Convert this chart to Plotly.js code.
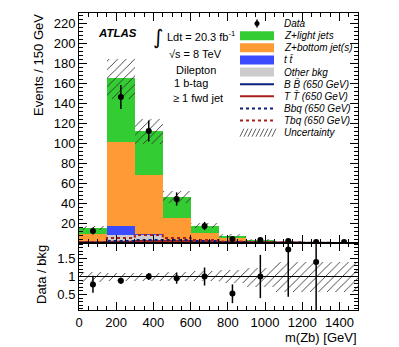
<!DOCTYPE html>
<html>
<head>
<meta charset="utf-8">
<script src="https://cdn.plot.ly/plotly-3.0.1.min.js"></script>
<style>html,body{margin:0;padding:0;background:#fff;}#chart{width:399px;height:347px;}</style>
</head>
<body>
<div id="chart"></div>
<script>
// ---- data ----
const binEdges   = [0,150,300,450,600,750,900,1050,1200,1350,1500];
const binCenters = [75,225,375,525,675,825,975,1125,1275,1425];
const binWidth   = 150;

// stacked backgrounds (bottom -> top)
const otherBkg   = [2.0, 8.0, 8.0, 3.0, 1.5, 1.0, 0.5, 0.2, 0.1, 0.05];
const ttbar      = [0.5, 9.0, 1.0, 0.5, 0.3, 0.2, 0.1, 0.05, 0.02, 0.01];
const zBottom    = [7.0, 84.0, 59.0, 21.5, 8.2, 3.8, 1.3, 0.45, 0.28, 0.1];
const zLight     = [5.8, 64.5, 44.0, 21.0, 7.0, 2.5, 1.1, 0.45, 0.3, 0.14];

// signals (not stacked)
const sigBB  = [0.4, 1.0, 1.5, 1.5, 1.0, 0.6, 0.3, 0.2, 0.1, 0.1];
const sigTT  = [0.4, 1.2, 2.0, 2.0, 1.5, 0.8, 0.4, 0.2, 0.1, 0.1];
const sigBbq = [0.6, 2.0, 3.0, 3.0, 2.0, 1.0, 0.5, 0.3, 0.2, 0.1];
const sigTbq = [1.0, 5.0, 8.0, 5.0, 3.0, 1.5, 0.8, 0.4, 0.2, 0.1];

// data
const dataY   = [12, 146, 112, 44, 17, 4, 3, 2, 1, 1];
const dataErr = [3.5, 12, 10.6, 6.6, 4.1, 2.0, 1.7, 1.4, 1.0, 1.0];

// ratio panel
const ratioY     = [0.78, 0.88, 1.0, 0.95, 1.0, 0.53, 1.0, 1.75, 1.4, null];
const ratioErrUp = [0.24, 0.08, 0.10, 0.15, 0.25, 0.25, 0.60, 1.40, 1.50, 0];
const ratioErrDn = [0.23, 0.08, 0.10, 0.15, 0.25, 0.27, 0.60, 1.31, 1.50, 0];
const bandHi     = [1.12, 1.11, 1.11, 1.12, 1.15, 1.18, 1.24, 1.39, 1.39, 1.39];
const bandLo     = [0.86, 0.87, 0.88, 0.87, 0.87, 0.81, 0.71, 0.57, 0.57, 0.57];

// tick labels
const mainYTicks  = [20,40,60,80,100,120,140,160,180,200,220];
const ratioYTicks = [0.5, 1, 1.5];
const ratioYText  = ['0.5', '1', '1.5'];

// ---- styles ----
const FONT = 'Liberation Sans, Arial, Helvetica, sans-serif';
const cGreen = '#33cc33', cOrange = '#ff9a35', cBlue = '#3b4cfe', cGrey = '#cccccc';
const cNavy = '#0b1f7d', cRed = '#a8201c';

// ---- build traces ----
function add(a, b) { return a.map((v, i) => v + b[i]); }
const base0 = binCenters.map(() => 0);
const base1 = add(base0, otherBkg);
const base2 = add(base1, ttbar);
const base3 = add(base2, zBottom);
const total = add(base3, zLight);

function stackBar(vals, base, color, name) {
  return {type: 'bar', x: binCenters, y: vals, base: base, width: binWidth,
    marker: {color: color, line: {width: 0}}, name: name, showlegend: false,
    xaxis: 'x', yaxis: 'y', hoverinfo: 'skip'};
}
function stepVals(v) { return v.concat([v[v.length - 1]]); }
function stepLine(vals, color, dash, name) {
  return {type: 'scatter', mode: 'lines', x: binEdges, y: stepVals(vals),
    line: {shape: 'hv', color: color, width: 2, dash: dash}, name: name,
    showlegend: false, xaxis: 'x', yaxis: 'y', hoverinfo: 'skip'};
}
const hatchPattern = {shape: '/', fgcolor: '#333333', bgcolor: 'rgba(0,0,0,0)', size: 6, solidity: 0.15, fillmode: 'replace'};

const traces = [
  stackBar(otherBkg, base0, cGrey, 'Other bkg'),
  stackBar(ttbar, base1, cBlue, 't t̄'),
  stackBar(zBottom, base2, cOrange, 'Z+bottom jet(s)'),
  stackBar(zLight, base3, cGreen, 'Z+light jets'),
  {type: 'bar', x: binCenters, width: binWidth,
    base: total.map((t, i) => t * bandLo[i]),
    y: total.map((t, i) => t * (bandHi[i] - bandLo[i])),
    marker: {color: '#333333', pattern: hatchPattern, line: {width: 0}},
    showlegend: false, xaxis: 'x', yaxis: 'y', hoverinfo: 'skip', name: 'Uncertainty'},
  {type: 'bar', x: binCenters, width: binWidth,
    base: bandLo, y: bandHi.map((h, i) => h - bandLo[i]),
    marker: {color: '#333333', pattern: hatchPattern, line: {width: 0}},
    showlegend: false, xaxis: 'x2', yaxis: 'y2', hoverinfo: 'skip', name: 'Uncertainty'},
  stepLine(sigBB, cNavy, 'solid', 'BB (650 GeV)'),
  stepLine(sigTT, cRed, 'solid', 'TT (650 GeV)'),
  stepLine(sigBbq, cNavy, 'dot', 'Bbq (650 GeV)'),
  stepLine(sigTbq, cRed, 'dot', 'Tbq (650 GeV)'),
  {type: 'scatter', mode: 'markers', x: binCenters, y: dataY,
    error_y: {type: 'data', array: dataErr, color: '#000', thickness: 1.5, width: 0},
    marker: {color: '#000', size: 6}, showlegend: false, xaxis: 'x', yaxis: 'y', name: 'Data'},
  {type: 'scatter', mode: 'markers', x: binCenters, y: ratioY,
    error_y: {type: 'data', symmetric: false, array: ratioErrUp, arrayminus: ratioErrDn, color: '#000', thickness: 1.5, width: 0},
    marker: {color: '#000', size: 6}, showlegend: false, xaxis: 'x2', yaxis: 'y2', name: 'Data / bkg'}
];

// ---- layout helpers (pixel -> paper) ----
const L = 79, R = 358, T = 13, B = 310;
const px = x => (x - L) / (R - L);
const py = y => (B - y) / (B - T);
const splitPx = 243;
const ratioTop = py(splitPx);

const annotations = [];
const shapes = [];
function text(t, x, y, opts) {
  opts = opts || {};
  annotations.push(Object.assign({text: t, xref: 'paper', yref: 'paper', x: px(x), y: py(y),
    xanchor: 'left', yanchor: 'middle', showarrow: false,
    font: {family: FONT, size: 11, color: '#000'}}, opts));
}

// axis titles
text('Events / 150 GeV', 38, 65, {textangle: -90, xanchor: 'center', font: {family: FONT, size: 13, color: '#000'}});
text('Data / bkg', 41, 275, {textangle: -90, xanchor: 'center', font: {family: FONT, size: 13, color: '#000'}});
text('m(Zb) [GeV]', 358.5, 337, {xanchor: 'right', font: {family: FONT, size: 13, color: '#000'}});

// labels
text('<b><i>ATLAS</i></b>', 96, 33, {font: {family: FONT, size: 11.5, color: '#000'}});
text('∫', 158, 37, {xanchor: 'center', font: {family: 'DejaVu Sans, ' + FONT, size: 20, color: '#000'}});
text('Ldt = 20.3 fb<sup>-1</sup>', 165, 36, {font: {family: FONT, size: 11, color: '#000'}});
text('√s = 8 TeV', 195, 53.5, {xanchor: 'center'});
text('Dilepton', 195.5, 69.5, {xanchor: 'center'});
text('1 b-tag', 190.5, 83.5, {xanchor: 'center'});
text('≥ 1 fwd jet', 197.5, 97.5, {xanchor: 'center'});

// legend
const legNames = ['Data', 'Z+light jets', 'Z+bottom jet(s)', 't t̄', 'Other bkg',
  'B B̄ (650 GeV)', 'T T̄ (650 GeV)', 'Bbq (650 GeV)', 'Tbq (650 GeV)', 'Uncertainty'];
const legY0 = 23.5, legDy = 12.13, lx0 = 240, lx1 = 274, ltx = 282;
legNames.forEach((n, i) => {
  text('<i>' + n + '</i>', ltx, legY0 + i * legDy, {font: {family: FONT, size: 10, color: '#000'}});
});
function ly(i) { return legY0 + i * legDy; }
// data symbol
shapes.push({type: 'line', xref: 'paper', yref: 'paper', x0: px(257), x1: px(257), y0: py(ly(0) - 4), y1: py(ly(0) + 4), line: {color: '#000', width: 1.5}});
shapes.push({type: 'circle', xref: 'paper', yref: 'paper', x0: px(254.5), x1: px(259.5), y0: py(ly(0) - 2.5), y1: py(ly(0) + 2.5), fillcolor: '#000', line: {width: 0}});
// boxes
[[1, cGreen], [2, cOrange], [3, cBlue], [4, cGrey]].forEach(([i, c]) => {
  shapes.push({type: 'rect', xref: 'paper', yref: 'paper', x0: px(lx0), x1: px(lx1), y0: py(ly(i) - 4.5), y1: py(ly(i) + 4.5), fillcolor: c, line: {width: 0}});
});
// lines
[[5, cNavy, 'solid'], [6, cRed, 'solid'], [7, cNavy, 'dot'], [8, cRed, 'dot']].forEach(([i, c, d]) => {
  shapes.push({type: 'line', xref: 'paper', yref: 'paper', x0: px(lx0), x1: px(lx1), y0: py(ly(i)), y1: py(ly(i)), line: {color: c, width: 2, dash: d}});
});
// hatch symbol
for (let k = 0; k < 9; k++) {
  const x = lx0 + k * 4;
  shapes.push({type: 'line', xref: 'paper', yref: 'paper', x0: px(x), x1: px(x + 4), y0: py(ly(9) + 4), y1: py(ly(9) - 4), line: {color: '#333', width: 0.8}});
}
// ratio reference line at 1
shapes.push({type: 'line', xref: 'x2', yref: 'y2', x0: binEdges[0], x1: binEdges[binEdges.length - 1], y0: 1, y1: 1, line: {color: '#000', width: 1}, layer: 'above'});

const axisCommon = {showline: true, linecolor: '#000', linewidth: 1, mirror: 'ticks', ticks: 'inside',
  tickcolor: '#000', tickwidth: 1, showgrid: false, zeroline: false,
  tickfont: {family: FONT, size: 13, color: '#000'}};

const layout = {
  width: 399, height: 347,
  margin: {l: L, r: 399 - R, t: T, b: 347 - B, pad: 0},
  paper_bgcolor: '#fff', plot_bgcolor: '#fff',
  barmode: 'overlay', bargap: 0, showlegend: false,
  xaxis: Object.assign({}, axisCommon, {domain: [0, 1], anchor: 'y', range: [0, 1500],
    dtick: 200, tick0: 0, ticklen: 8, showticklabels: false,
    minor: {dtick: 50, tick0: 0, ticklen: 4, ticks: 'inside', tickcolor: '#000', showgrid: false}}),
  yaxis: Object.assign({}, axisCommon, {domain: [ratioTop, 1], anchor: 'x', range: [0, 230],
    tickmode: 'array', tickvals: mainYTicks, ticklen: 8,
    minor: {tickmode: 'linear', dtick: 4, tick0: 0, ticklen: 4, ticks: 'inside', tickcolor: '#000', showgrid: false}}),
  xaxis2: Object.assign({}, axisCommon, {domain: [0, 1], anchor: 'y2', range: [0, 1500],
    dtick: 200, tick0: 0, ticklen: 8,
    minor: {dtick: 50, tick0: 0, ticklen: 4, ticks: 'inside', tickcolor: '#000', showgrid: false}}),
  yaxis2: Object.assign({}, axisCommon, {domain: [0, ratioTop], anchor: 'x2', range: [0.07, 1.93],
    tickmode: 'array', tickvals: ratioYTicks, ticktext: ratioYText, ticklen: 8,
    minor: {tickmode: 'linear', dtick: 0.1, tick0: 0, ticklen: 4, ticks: 'inside', tickcolor: '#000', showgrid: false}}),
  annotations: annotations,
  shapes: shapes
};

Plotly.newPlot('chart', traces, layout, {staticPlot: true, displayModeBar: false});
</script>
</body>
</html>
